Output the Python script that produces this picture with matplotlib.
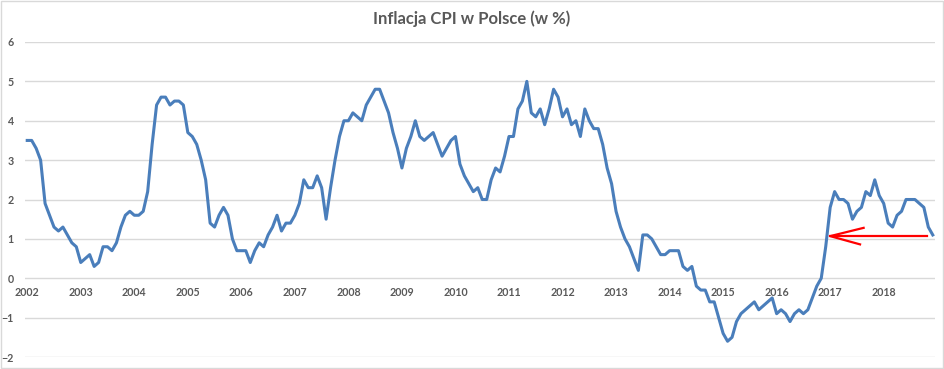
import matplotlib
matplotlib.use("Agg")
import matplotlib.pyplot as plt
from matplotlib.patches import Rectangle

# Monthly CPI y/y (%), Jan 2002 - Dec 2018
cpi_2002 = [3.5, 3.5, 3.3, 3.0, 1.9, 1.6, 1.3, 1.2, 1.3, 1.1, 0.9, 0.8]
cpi_2003 = [0.4, 0.5, 0.6, 0.3, 0.4, 0.8, 0.8, 0.7, 0.9, 1.3, 1.6, 1.7]
cpi_2004 = [1.6, 1.6, 1.7, 2.2, 3.4, 4.4, 4.6, 4.6, 4.4, 4.5, 4.5, 4.4]
cpi_2005 = [3.7, 3.6, 3.4, 3.0, 2.5, 1.4, 1.3, 1.6, 1.8, 1.6, 1.0, 0.7]
cpi_2006 = [0.7, 0.7, 0.4, 0.7, 0.9, 0.8, 1.1, 1.3, 1.6, 1.2, 1.4, 1.4]
cpi_2007 = [1.6, 1.9, 2.5, 2.3, 2.3, 2.6, 2.3, 1.5, 2.3, 3.0, 3.6, 4.0]
cpi_2008 = [4.0, 4.2, 4.1, 4.0, 4.4, 4.6, 4.8, 4.8, 4.5, 4.2, 3.7, 3.3]
cpi_2009 = [2.8, 3.3, 3.6, 4.0, 3.6, 3.5, 3.6, 3.7, 3.4, 3.1, 3.3, 3.5]
cpi_2010 = [3.6, 2.9, 2.6, 2.4, 2.2, 2.3, 2.0, 2.0, 2.5, 2.8, 2.7, 3.1]
cpi_2011 = [3.6, 3.6, 4.3, 4.5, 5.0, 4.2, 4.1, 4.3, 3.9, 4.3, 4.8, 4.6]
cpi_2012 = [4.1, 4.3, 3.9, 4.0, 3.6, 4.3, 4.0, 3.8, 3.8, 3.4, 2.8, 2.4]
cpi_2013 = [1.7, 1.3, 1.0, 0.8, 0.5, 0.2, 1.1, 1.1, 1.0, 0.8, 0.6, 0.6]
cpi_2014 = [0.7, 0.7, 0.7, 0.3, 0.2, 0.3, -0.2, -0.3, -0.3, -0.6, -0.6, -1.0]
cpi_2015 = [-1.4, -1.6, -1.5, -1.1, -0.9, -0.8, -0.7, -0.6, -0.8, -0.7, -0.6, -0.5]
cpi_2016 = [-0.9, -0.8, -0.9, -1.1, -0.9, -0.8, -0.9, -0.8, -0.5, -0.2, 0.0, 0.8]
cpi_2017 = [1.8, 2.2, 2.0, 2.0, 1.9, 1.5, 1.7, 1.8, 2.2, 2.1, 2.5, 2.1]
cpi_2018 = [1.9, 1.4, 1.3, 1.6, 1.7, 2.0, 2.0, 2.0, 1.9, 1.8, 1.3, 1.1]

years = list(range(2002, 2019))
cpi = (cpi_2002 + cpi_2003 + cpi_2004 + cpi_2005 + cpi_2006 + cpi_2007
       + cpi_2008 + cpi_2009 + cpi_2010 + cpi_2011 + cpi_2012 + cpi_2013
       + cpi_2014 + cpi_2015 + cpi_2016 + cpi_2017 + cpi_2018)
months = list(range(len(cpi)))

# red arrow annotation (month index, value)
arrow_tip = (180.0, 1.07)
arrow_tail = (201.7, 1.07)
arrow_head_up = (187.5, 1.28)
arrow_head_down = (186.7, 0.86)

txt = "#595959"
grid = "#d9d9d9"

fig = plt.figure(figsize=(9.45, 3.69), dpi=100)
fig.patches.append(Rectangle((0.001, 0.002), 0.997, 0.994, transform=fig.transFigure,
                             fill=False, edgecolor="#d9d9d9", linewidth=1))
ax = fig.add_axes([25 / 945, 12 / 369, 910 / 945, 315 / 369])

ax.plot(months, cpi, color="#4a7ebb", linewidth=2.2, solid_joinstyle="round", zorder=3)

# arrow
ax.plot([arrow_tail[0], arrow_tip[0]], [arrow_tail[1], arrow_tip[1]], color="red", lw=1.6, zorder=4)
ax.plot([arrow_head_up[0], arrow_tip[0], arrow_head_down[0]],
        [arrow_head_up[1], arrow_tip[1], arrow_head_down[1]], color="red", lw=1.6, zorder=4)

ax.set_xlim(-0.5, len(cpi) - 0.5)
ax.set_ylim(-2, 6)
ax.set_yticks(range(-2, 7))
ax.set_xticks([12 * i for i in range(len(years))])
ax.set_xticklabels([str(y) for y in years])
ax.grid(axis="y", color=grid, linewidth=1)
ax.set_axisbelow(True)
for s in ax.spines.values():
    s.set_visible(False)
ax.spines["bottom"].set_position(("data", 0))
ax.tick_params(length=0, labelsize=7.7, labelcolor=txt)
ax.tick_params(axis="y", pad=8)
ax.tick_params(axis="x", pad=6)
for lbl in ax.get_xticklabels() + ax.get_yticklabels():
    lbl.set_fontfamily("Lato")
    lbl.set_fontweight("bold")

fig.text(472 / 945, 1 - 19 / 369, "Inflacja CPI w Polsce (w %)", ha="center", va="center",
         fontsize=12, fontweight="bold", color=txt, family="Lato")

fig.savefig("out.png", dpi=100)
